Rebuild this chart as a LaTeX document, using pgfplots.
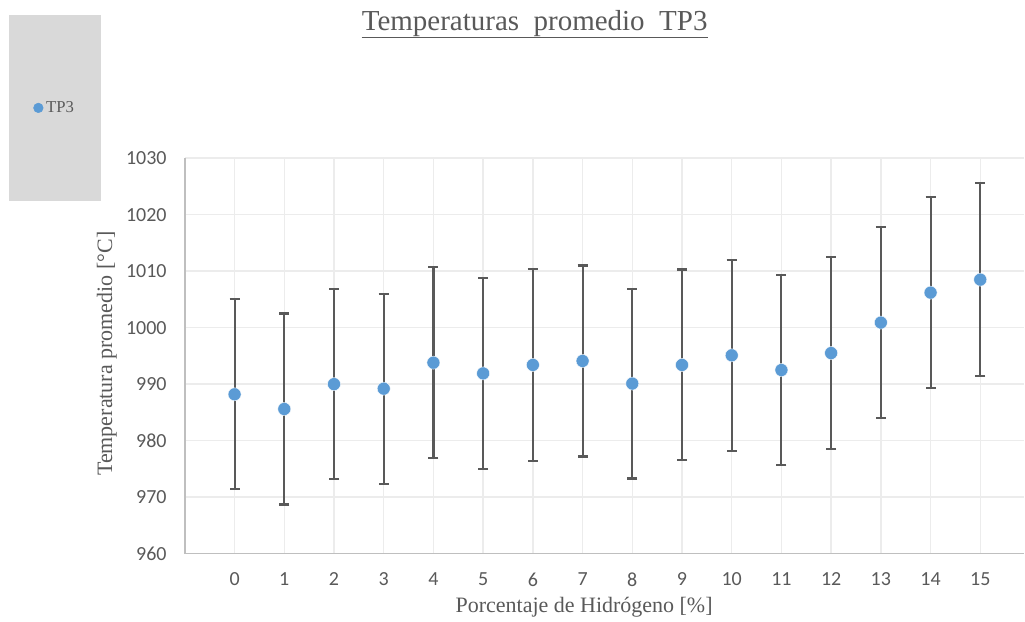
\documentclass[border=0pt]{standalone}
\usepackage{pgfplots}
\pgfplotsset{compat=1.18}
\usepackage{fontspec}
\setmainfont{Liberation Serif}
\newfontfamily\carlito{Carlito}
\definecolor{txtgray}{RGB}{89,89,89}
\definecolor{gridgray}{RGB}{236,236,236}
\definecolor{axisgray}{RGB}{191,191,191}
\definecolor{dotblue}{RGB}{91,155,213}
\definecolor{legfill}{RGB}{217,217,217}

% mean temperature at TP3 and its spread, per hydrogen percentage
\pgfplotstableread{
x  y      e
0  988.2  16.8
1  985.6  16.9
2  990.0  16.8
3  989.2  16.8
4  993.8  16.95
5  991.9  16.95
6  993.4  16.95
7  994.1  16.9
8  990.1  16.8
9  993.4  16.9
10 995.1  16.95
11 992.5  16.8
12 995.5  16.95
13 1000.9 16.9
14 1006.2 16.95
15 1008.5 17.1
}\tpthree

\begin{document}
\begin{tikzpicture}
\begin{scope}[x=0.75pt,y=-0.75pt]
  \useasboundingbox (0,0) rectangle (1025,622);
\end{scope}
\begin{axis}[
  at={(138.75pt,-415.5pt)}, anchor=south west,
  scale only axis, width=630pt, height=296.8pt,
  xmin=-1, xmax=15.885, ymin=960, ymax=1030,
  xtick={0,...,15}, ytick={960,970,...,1030},
  axis x line=bottom, axis y line=left,
  axis line style={-, draw=axisgray, line width=1.1pt},
  grid=major, major grid style={draw=gridgray, line width=1.1pt},
  major tick length=0pt,
  tick label style={font=\carlito\fontsize{15}{18}\selectfont, text=txtgray, inner sep=0pt},
  /pgf/number format/assume math mode=true,
  /pgf/number format/1000 sep={},
  yticklabel style={anchor=east, xshift=-13.5pt},
  xticklabel style={anchor=north, yshift=-14.25pt},
  title={Temperaturas\ \ promedio\ \ TP3},
  title style={name=ttl, font=\fontsize{21.75}{26}\selectfont, text=txtgray, inner sep=0pt,
    at={(axis description cs:0.4167,1.3014)}, anchor=base},
  xlabel={Porcentaje de Hidrógeno [\%]},
  xlabel style={font=\fontsize{16.5}{20}\selectfont, text=txtgray, inner sep=0pt,
    at={(axis description cs:0.4756,-0.1491)}, anchor=base},
  ylabel={Temperatura promedio [°C]},
  ylabel style={font=\fontsize{16.5}{20}\selectfont, text=txtgray, inner sep=0pt,
    at={(axis description cs:-0.0929,0.5054)}, anchor=center},
  legend style={draw=none, fill=legfill, at={(axis description cs:-0.1548,1.1271)}, anchor=center,
    font=\fontsize{12.5}{14}\selectfont, text=txtgray, inner xsep=18pt, inner ysep=63pt},
  legend image code/.code={\fill[dotblue] (0.15cm,0) circle (3.6pt);},
]
\addplot[only marks, mark=*, mark size=4.9pt,
  mark options={fill=dotblue, draw=white, line width=0.3pt},
  error bars/.cd, y dir=both, y explicit,
  error bar style={draw=txtgray, line width=1.6pt},
  error mark options={rotate=90, mark size=3.75pt, draw=txtgray, line width=1.6pt}]
  table[x=x, y=y, y error=e] {\tpthree};
\addlegendentry{TP3}
\end{axis}
\draw[txtgray, line width=1.1pt] ([yshift=-4.8pt]ttl.base west) -- ([yshift=-4.8pt]ttl.base east);
\end{tikzpicture}
\end{document}
